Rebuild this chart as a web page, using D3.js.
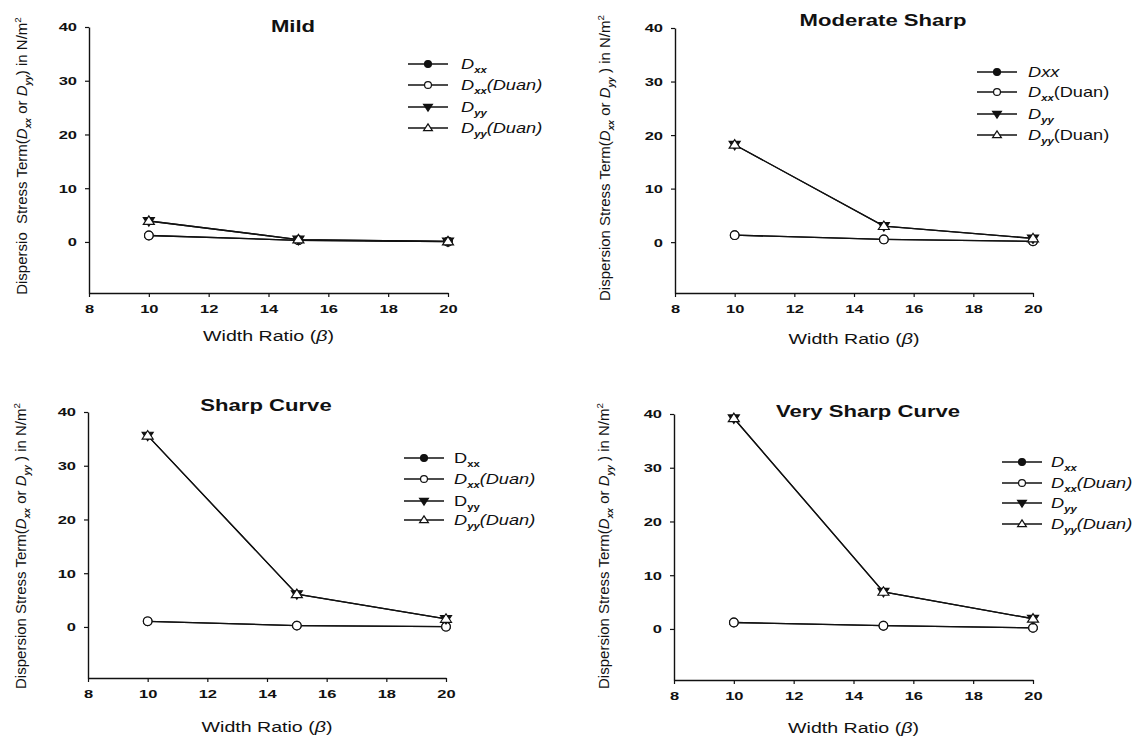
<!DOCTYPE html>
<html><head><meta charset="utf-8">
<script src="https://cdn.jsdelivr.net/npm/d3@7"></script>
<style>body{margin:0;background:#fff}svg{display:block}</style>
</head><body>
<svg id="chart" width="1132" height="736"></svg>
<script>
// ---------- data ----------
const xValues = [10, 15, 20];
const xTicks = [8, 10, 12, 14, 16, 18, 20];
const yTicks = [0, 10, 20, 30, 40];
const panelTitles = ["Mild", "Moderate Sharp", "Sharp Curve", "Very Sharp Curve"];
const seriesNames = ["Dxx", "Dxx(Duan)", "Dyy", "Dyy(Duan)"];

const mildDxx = [1.2, 0.3, 0.05];
const mildDxxDuan = [1.2, 0.3, 0.05];
const mildDyy = [3.9, 0.45, 0.1];
const mildDyyDuan = [3.9, 0.45, 0.1];

const moderateDxx = [1.3, 0.5, 0.15];
const moderateDxxDuan = [1.3, 0.5, 0.15];
const moderateDyy = [18.2, 3.0, 0.7];
const moderateDyyDuan = [18.2, 3.0, 0.7];

const sharpDxx = [1.05, 0.25, 0.05];
const sharpDxxDuan = [1.05, 0.25, 0.05];
const sharpDyy = [35.6, 6.1, 1.5];
const sharpDyyDuan = [35.6, 6.1, 1.5];

const verySharpDxx = [1.2, 0.6, 0.2];
const verySharpDxxDuan = [1.2, 0.6, 0.2];
const verySharpDyy = [39.2, 6.9, 1.9];
const verySharpDyyDuan = [39.2, 6.9, 1.9];

// legend label pieces (i = italic, sub = subscript)
const legendItalic = [
  [{t:"D",i:1},{t:"xx",i:1,sub:1}],
  [{t:"D",i:1},{t:"xx",i:1,sub:1},{t:"(Duan)",i:1}],
  [{t:"D",i:1},{t:"yy",i:1,sub:1}],
  [{t:"D",i:1},{t:"yy",i:1,sub:1},{t:"(Duan)",i:1}]
];
const legendModerate = [
  [{t:"Dxx",i:1}],
  [{t:"D",i:1},{t:"xx",i:1,sub:1},{t:"(Duan)"}],
  [{t:"D",i:1},{t:"yy",i:1,sub:1}],
  [{t:"D",i:1},{t:"yy",i:1,sub:1},{t:"(Duan)"}]
];
const legendSharp = [
  [{t:"D"},{t:"xx",sub:1}],
  [{t:"D",i:1},{t:"xx",i:1,sub:1},{t:"(Duan)",i:1}],
  [{t:"D"},{t:"yy",sub:1}],
  [{t:"D",i:1},{t:"yy",i:1,sub:1},{t:"(Duan)",i:1}]
];
const yLabelShort = [{t:"Dispersio  Stress Term("},{t:"D",i:1},{t:"xx",i:1,sub:1},{t:" or "},{t:"D",i:1},{t:"yy",i:1,sub:1},{t:") in N/m"},{t:"2",sup:1}];
const yLabelFull = [{t:"Dispersion Stress Term("},{t:"D",i:1},{t:"xx",i:1,sub:1},{t:" or "},{t:"D",i:1},{t:"yy",i:1,sub:1},{t:" ) in N/m"},{t:"2",sup:1}];
const xLabel = [{t:"Width Ratio ("},{t:"\u03B2",i:1},{t:")"}];

// ---------- layout ----------
const panels = [
  {title:panelTitles[0], series:[mildDxx,mildDxxDuan,mildDyy,mildDyyDuan], legend:legendItalic, yLabel:yLabelShort,
   L:89, R:448, T:27, B:293, titleX:293, titleY:32, legX0:408, legX1:448, legTX:461, legY:[64,85,107,128],
   yLabX:27, yLabY:156, xLabY:341},
  {title:panelTitles[1], series:[moderateDxx,moderateDxxDuan,moderateDyy,moderateDyyDuan], legend:legendModerate, yLabel:yLabelFull,
   L:675, R:1033, T:28, B:293, titleX:883, titleY:26, legX0:977, legX1:1017, legTX:1028, legY:[72,92,114,135],
   yLabX:610, yLabY:158, xLabY:344},
  {title:panelTitles[2], series:[sharpDxx,sharpDxxDuan,sharpDyy,sharpDyyDuan], legend:legendSharp, yLabel:yLabelFull,
   L:88, R:446, T:412, B:678, titleX:266, titleY:411, legX0:404, legX1:444, legTX:454, legY:[458,479,501,520],
   yLabX:26, yLabY:546, xLabY:732},
  {title:panelTitles[3], series:[verySharpDxx,verySharpDxxDuan,verySharpDyy,verySharpDyyDuan], legend:legendItalic, yLabel:yLabelFull,
   L:674, R:1033, T:414, B:680, titleX:868, titleY:417, legX0:1002, legX1:1042, legTX:1051, legY:[462,483,503,524],
   yLabX:609, yLabY:546, xLabY:733}
];

const FONT = "'Liberation Sans', Arial, Helvetica, sans-serif";
const svg = d3.select("#chart");
svg.append("rect").attr("width",1132).attr("height",736).attr("fill","#fff");

function richText(g, pieces, size, opts) {
  const t = g.append("text").attr("font-family", FONT).attr("font-size", size)
    .attr("fill", "#111").attr("text-anchor", opts.anchor || "start")
    .attr("font-weight", opts.weight || "normal")
    .attr("transform", opts.transform).style("white-space", "pre");
  let shift = 0;
  pieces.forEach(p => {
    const s = t.append("tspan").text(p.t);
    if (p.i) s.attr("font-style", "italic");
    let target = 0;
    if (p.sub) { s.attr("font-size", size * 0.62).attr("font-weight", "bold"); target = size * 0.28; }
    if (p.sup) { s.attr("font-size", size * 0.65); target = -size * 0.42; }
    if (target !== shift) { s.attr("dy", target - shift); shift = target; }
  });
  return t;
}

function markerPath(kind, w, h) {
  if (kind === "up") return `M0,${-h*0.6}L${w/2},${h*0.4}L${-w/2},${h*0.4}Z`;
  return `M0,${h*0.6}L${w/2},${-h*0.4}L${-w/2},${-h*0.4}Z`;
}
const styles = [
  {shape:"circle", fill:"#111"},
  {shape:"circle", fill:"#fff"},
  {shape:"down", fill:"#111"},
  {shape:"up", fill:"#fff"}
];
function drawMarker(g, st, x, y, scaleF) {
  if (st.shape === "circle") {
    g.append("circle").attr("cx", x).attr("cy", y).attr("r", 4.3 * scaleF)
      .attr("fill", st.fill).attr("stroke", "#111").attr("stroke-width", 1.2);
  } else {
    g.append("path").attr("d", markerPath(st.shape, 11 * scaleF, 8.5 * scaleF))
      .attr("transform", `translate(${x},${y})`)
      .attr("fill", st.fill).attr("stroke", "#111").attr("stroke-width", 1.2);
  }
}

panels.forEach(p => {
  const g = svg.append("g");
  const x = d3.scaleLinear().domain([8, 20]).range([p.L, p.R]);
  const y = d3.scaleLinear().domain([-9.5, 40]).range([p.B, p.T]);

  // axes
  const ax = g.append("g").attr("transform", `translate(0,${p.B})`)
    .call(d3.axisBottom(x).tickValues(xTicks).tickSize(4).tickSizeOuter(0).tickFormat(d3.format("d")));
  const ay = g.append("g").attr("transform", `translate(${p.L},0)`)
    .call(d3.axisLeft(y).tickValues(yTicks).tickSize(4).tickSizeOuter(0).tickFormat(d3.format("d")));
  [ax, ay].forEach(a => {
    a.select(".domain").attr("stroke", "#111").attr("stroke-width", 1.4);
    a.selectAll(".tick line").attr("stroke", "#111").attr("stroke-width", 1.2);
    a.selectAll(".tick text").attr("font-family", FONT).attr("font-size", 11)
      .attr("font-weight", "bold").attr("fill", "#111");
  });
  ax.selectAll(".tick text").attr("y", 0).attr("dy", 0)
    .attr("transform", "translate(0,20) scale(1.5,1)");
  ay.selectAll(".tick text").attr("x", 0).attr("dy", "0.36em")
    .attr("transform", "translate(-12,0) scale(1.5,1)");

  // series
  const line = d3.line().x((d, i) => x(xValues[i])).y(d => y(d));
  p.series.forEach((vals, si) => {
    g.append("path").datum(vals).attr("d", line).attr("fill", "none")
      .attr("stroke", "#111").attr("stroke-width", 1.3);
  });
  p.series.forEach((vals, si) => {
    vals.forEach((v, i) => drawMarker(g, styles[si], x(xValues[i]), y(v), 1));
  });

  // title
  richText(g, [{t:p.title}], 17, {anchor:"middle", weight:"bold",
    transform:`translate(${p.titleX},${p.titleY}) scale(1.3,1)`});

  // axis labels
  richText(g, xLabel, 14, {anchor:"middle",
    transform:`translate(${(p.L + p.R) / 2},${p.xLabY}) scale(1.4,1)`});
  richText(g, p.yLabel, 15, {anchor:"middle",
    transform:`translate(${p.yLabX},${p.yLabY}) rotate(-90)`});

  // legend
  p.legend.forEach((lab, li) => {
    const ly = p.legY[li];
    g.append("line").attr("x1", p.legX0).attr("x2", p.legX1).attr("y1", ly).attr("y2", ly)
      .attr("stroke", "#111").attr("stroke-width", 1.3);
    drawMarker(g, styles[li], (p.legX0 + p.legX1) / 2, ly, 0.8);
    richText(g, lab, 14, {anchor:"start",
      transform:`translate(${p.legTX},${ly + 5}) scale(1.3,1)`});
  });
});
</script>
</body></html>
